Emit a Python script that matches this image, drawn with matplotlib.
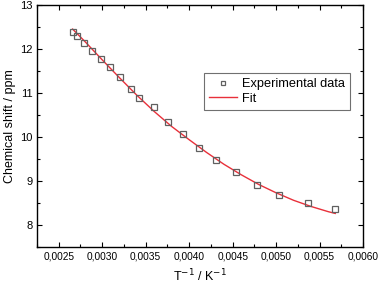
# Chemical shift vs inverse temperature, with fit

import matplotlib
matplotlib.use('Agg')
import matplotlib.pyplot as plt
from matplotlib.ticker import MultipleLocator, FuncFormatter

plt.rcParams['font.family'] = ['Liberation Sans', 'DejaVu Sans']

# experimental points (T^-1 / K^-1, ppm)
inv_t = [0.00266, 0.002707, 0.002795, 0.002887, 0.002984, 0.003091,
         0.003203, 0.003329, 0.003422, 0.003601, 0.003756, 0.003924,
         0.004113, 0.004312, 0.004543, 0.004785, 0.005034, 0.005369,
         0.005680]
shift = [12.39, 12.31, 12.15, 11.95, 11.78, 11.60,
         11.37, 11.09, 10.88, 10.68, 10.34, 10.06,
         9.76, 9.48, 9.20, 8.91, 8.68, 8.49,
         8.35]

# fit curve
fit_x = [0.00266, 0.0028, 0.0030, 0.0032, 0.0034, 0.0036, 0.0038, 0.0040,
         0.0042, 0.0044, 0.0046, 0.0048, 0.0050, 0.0052, 0.0054, 0.0056,
         0.00568]
fit_y = [12.46, 12.18, 11.76, 11.35, 10.95, 10.58, 10.24, 9.94,
         9.65, 9.38, 9.14, 8.92, 8.73, 8.56, 8.42, 8.30,
         8.26]

fig = plt.figure(figsize=(3.81, 2.84), dpi=100)
ax = fig.add_axes([0.097, 0.131, 0.856, 0.85])

ax.plot(inv_t, shift, 's', mfc='none', mec='#606060', mew=0.9, ms=4.5,
        label='Experimental data', zorder=3)
ax.plot(fit_x, fit_y, '-', color='#e8303a', lw=1.0, label='Fit', zorder=2)

ax.set_xlim(0.00225, 0.006)
ax.set_ylim(7.5, 13)
ax.xaxis.set_major_locator(MultipleLocator(0.0005))
ax.xaxis.set_minor_locator(MultipleLocator(0.00025))
ax.yaxis.set_major_locator(MultipleLocator(1))
ax.yaxis.set_minor_locator(MultipleLocator(0.5))
ax.xaxis.set_major_formatter(FuncFormatter(lambda v, p: '{:.4f}'.format(v).replace('.', ',')))
ax.yaxis.set_major_formatter(FuncFormatter(lambda v, p: '{:.0f}'.format(v)))

ax.tick_params(which='both', direction='in', top=True, right=True,
               labelsize=7.3, width=0.8)
ax.tick_params(which='major', length=3.5)
ax.tick_params(which='minor', length=2)
ax.tick_params(axis='y', labelsize=8, pad=3)
for s in ax.spines.values():
    s.set_linewidth(1.0)

ax.set_xlabel('T$^{-1}$ / K$^{-1}$', fontsize=9, labelpad=4)
ax.set_ylabel('Chemical shift / ppm', fontsize=9, labelpad=3)

leg = ax.legend(loc='upper left', bbox_to_anchor=(0.512, 0.72), borderaxespad=0,
                fontsize=9.2, fancybox=False, edgecolor='#707070', framealpha=1,
                handlelength=2.2, borderpad=0.4, labelspacing=0.2,
                handletextpad=0.4, markerscale=0.7)
leg.get_frame().set_linewidth(0.8)

fig.savefig('out.png', dpi=100)
